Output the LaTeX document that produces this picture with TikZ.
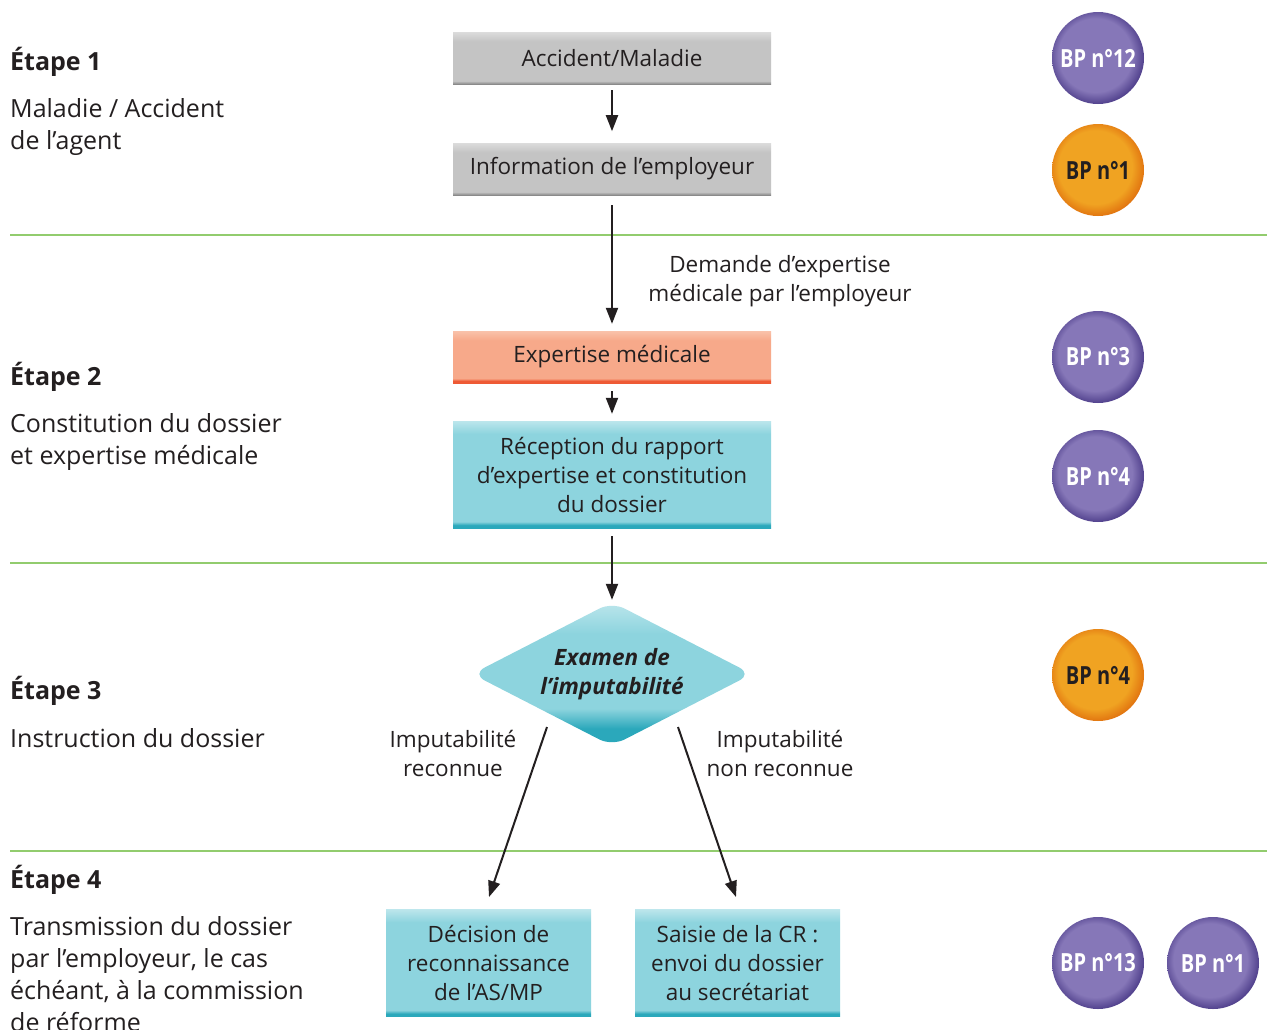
\documentclass[tikz,border=0pt]{standalone}
\usepackage{fontspec}
\setmainfont{Open Sans}
\newfontfamily\condfont[FakeStretch=0.80]{Open Sans}
\usetikzlibrary{arrows.meta,shapes.geometric}
\definecolor{txt}{HTML}{231F20}
\definecolor{sepgreen}{HTML}{92CC6E}
\definecolor{greymain}{HTML}{C4C4C4}
\definecolor{greylight}{HTML}{DCDCDC}
\definecolor{greydark}{HTML}{8A8A8A}
\definecolor{salmain}{HTML}{F7A98A}
\definecolor{sallight}{HTML}{F9C2AA}
\definecolor{saldark}{HTML}{EE5A35}
\definecolor{cyanmain}{HTML}{8DD4DE}
\definecolor{cyanlight}{HTML}{BCE6EC}
\definecolor{cyandark}{HTML}{2BA8BB}
\definecolor{purmain}{HTML}{8677B8}
\definecolor{purdark}{HTML}{4B3B88}
\definecolor{oramain}{HTML}{F0A322}
\definecolor{oradark}{HTML}{E0700E}
\pgfdeclareverticalshading{greyshade}{100bp}{color(0bp)=(greydark); color(25bp)=(greydark); color(28bp)=(greymain); color(66bp)=(greymain); color(75bp)=(greylight); color(100bp)=(greylight)}
\pgfdeclareverticalshading{salshade}{100bp}{color(0bp)=(saldark); color(27bp)=(saldark); color(29.5bp)=(salmain); color(66bp)=(salmain); color(75bp)=(sallight); color(100bp)=(sallight)}
\pgfdeclareverticalshading{cyanshade}{100bp}{color(0bp)=(cyandark); color(26.3bp)=(cyandark); color(28bp)=(cyanmain); color(69bp)=(cyanmain); color(75bp)=(cyanlight); color(100bp)=(cyanlight)}
\pgfdeclareverticalshading{diashade}{100bp}{color(0bp)=(cyandark); color(25bp)=(cyandark); color(31bp)=(cyandark); color(38bp)=(cyanmain); color(64bp)=(cyanmain); color(75bp)=(cyanlight); color(100bp)=(cyanlight)}
\pgfdeclareradialshading{purball}{\pgfpoint{-2.5bp}{2.5bp}}{color(0bp)=(purmain); color(20bp)=(purmain); color(27bp)=(purdark); color(50bp)=(purdark)}
\pgfdeclareradialshading{oraball}{\pgfpoint{-2.5bp}{2.5bp}}{color(0bp)=(oramain); color(20bp)=(oramain); color(27bp)=(oradark); color(50bp)=(oradark)}
\begin{document}
\begin{tikzpicture}[x=1pt,y=-1pt,
  every node/.style={text=txt},
  sep/.style={draw=sepgreen,line width=2pt},
  flowbox/.style={rectangle,minimum width=318pt,inner sep=0pt,align=center,
    font=\fontsize{22.5}{29}\selectfont},
  greybox/.style={flowbox,shading=greyshade,minimum height=52pt},
  salbox/.style={flowbox,shading=salshade,minimum height=52pt},
  cyanbox/.style={flowbox,shading=cyanshade,minimum height=107pt},
  smallbox/.style={cyanbox,minimum width=205pt},
  decision/.style={diamond,shading=diashade,minimum width=280pt,minimum height=144pt,
    inner sep=0pt,aspect=1.94,rounded corners=14pt,align=center,
    font=\fontsize{22.5}{29}\selectfont\bfseries\itshape},
  badge/.style={circle,minimum size=92pt,inner sep=0pt,
    font=\condfont\fontsize{25}{25}\selectfont\bfseries},
  purbadge/.style={badge,shading=purball,text=white},
  orabadge/.style={badge,shading=oraball,text=txt},
  etape/.style={anchor=base west,font=\fontsize{25}{32}\selectfont\bfseries,inner sep=0pt},
  desc/.style={anchor=north west,align=left,font=\fontsize{25}{32}\selectfont,inner sep=0pt},
  lbl/.style={align=center,font=\fontsize{22.5}{29}\selectfont,inner sep=0pt},
  arr/.style={draw=txt,line width=2pt,-{Triangle[length=16pt,width=12pt]}}
]
\useasboundingbox (0,0) rectangle (1267,1029);
\fill[white] (0,0) rectangle (1267,1029);

% separators
\draw[sep] (10,235) -- (1267,235);
\draw[sep] (10,563) -- (1267,563);
\draw[sep] (10,851) -- (1267,851);

% left texts
\node[etape] (e1) at (10,70) {Étape 1};
\node[desc] (d1) at (10,98) {Maladie / Accident\\de l’agent};
\node[etape] (e2) at (10,385) {Étape 2};
\node[desc] (d2) at (10,413) {Constitution du dossier\\et expertise médicale};
\node[etape] (e3) at (10,699) {Étape 3};
\node[desc] (d3) at (10,728) {Instruction du dossier};
\node[etape] (e4) at (10,888) {Étape 4};
\node[desc] (d4) at (10,916) {Transmission du dossier\\par l’employeur, le cas\\échéant, à la commission\\de réforme};

% flow boxes
\node[greybox] (b1) at (612,58) {Accident/Maladie};
\node[greybox] (b2) at (612,169) {Information de l’employeur};
\node[salbox] (b3) at (612,357) {Expertise médicale};
\node[cyanbox] (b4) at (612,474.5) {Réception du rapport\\d’expertise et constitution\\du dossier};
\node[decision] (dec) at (612,674) {Examen de\\l’imputabilité};
\node[smallbox] (b5) at (488.5,963) {Décision de\\reconnaissance\\de l’AS/MP};
\node[smallbox] (b6) at (737.5,963) {Saisie de la CR :\\envoi du dossier\\au secrétariat};

% labels
\node[lbl] (l1) at (780,281) {Demande d’expertise\\médicale par l’employeur};
\node[lbl] (l2) at (453,753) {Imputabilité\\reconnue};
\node[lbl] (l3) at (780,753) {Imputabilité\\non reconnue};

% arrows
\draw[arr] ([yshift=-6pt]b1.south) -- ([yshift=-47pt]b1.south);
\draw[arr] ([yshift=-10pt]b2.south) -- ([yshift=7pt]b3.north);
\draw[arr] ([yshift=-8pt]b3.south) -- ([yshift=7pt]b4.north);
\draw[arr] ([yshift=-8pt]b4.south) -- ([yshift=2pt]dec.north);
\coordinate (s1) at (547,727);
\coordinate (t1) at (489,897);
\coordinate (s2) at (678,727);
\coordinate (t2) at (736,897);
\draw[arr] (s1) -- (t1);
\draw[arr] (s2) -- (t2);

% badges
\node[purbadge] (p1) at (1098,58) {BP n°12};
\node[orabadge] (p2) at (1098,170) {BP n°1};
\node[purbadge] (p3) at (1098,357) {BP n°3};
\node[purbadge] (p4) at (1098,476) {BP n°4};
\node[orabadge] (p5) at (1098,675) {BP n°4};
\node[purbadge] (p6) at (1098,963) {BP n°13};
\node[purbadge] (p7) at (1213,963) {BP n°1};
\end{tikzpicture}
\end{document}
